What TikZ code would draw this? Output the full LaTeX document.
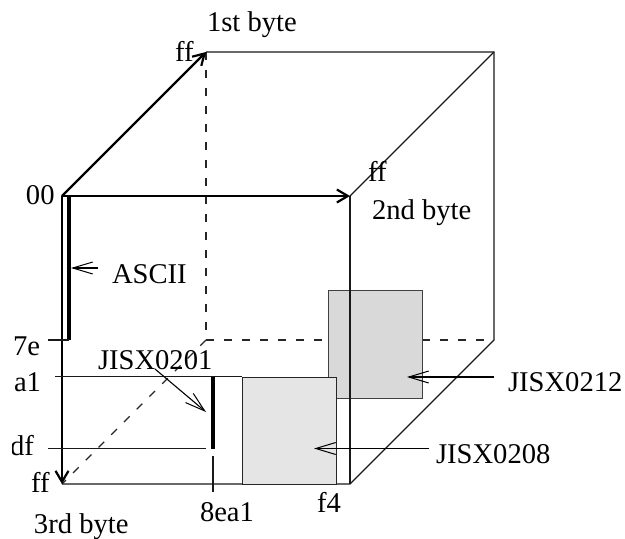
\documentclass[tikz,border=0pt]{standalone}
\usepackage{fontspec}
\setmainfont{Liberation Serif}
\usetikzlibrary{arrows.meta}
\tikzset{
  x=1pt,y=-1pt,
  thinline/.style={line width=1.1pt,draw=black!90},
  hidden/.style={line width=1.1pt,draw=black!85,dash pattern=on 8pt off 10pt},
  axis/.style={line width=2.4pt,-{Straight Barb[length=11pt,width=13pt,line width=2.2pt]}},
  bar/.style={line width=4.5pt},
  pointer/.style={line width=1.1pt,-{Straight Barb[length=20pt,width=12pt,line width=1pt]}},
  lab/.style={anchor=base west,inner sep=0pt,outer sep=0pt,font=\fontsize{28.6pt}{30pt}\selectfont},
  boxa/.style={fill=black!10,draw=black!85,line width=1.1pt},
  boxb/.style={fill=black!15,draw=black!75,line width=1.1pt}
}
\begin{document}
\begin{tikzpicture}
\useasboundingbox (0,0) rectangle (625,539);
% cube corners
\coordinate (o) at (62,196);
\coordinate (bt) at (206,52);
\coordinate (tr) at (350,196);
\coordinate (btr) at (494,52);
\coordinate (bbr) at (494,340);
\coordinate (bbl) at (206,340);
\coordinate (fl) at (62,484);
\coordinate (fr) at (350,484);
% hidden edges
\draw[hidden] (bt) -- (bbl);
\draw[hidden] (bbl) -- (bbr);
\draw[hidden] (bbl) -- (fl);
% visible thin edges
\draw[thinline] (bt) -- (btr) -- (bbr) -- (fr) -- (fl);
\draw[thinline] (tr) -- (btr);
% JISX0212 box
\node[boxb,minimum width=94pt,minimum height=108pt,inner sep=0pt,anchor=north west] (b212) at (328,290) {};
% front vertical over back box
\draw[thinline] (tr) -- (fr);
% JISX0208 box
\node[boxa,minimum width=93.5pt,minimum height=107.5pt,inner sep=0pt,anchor=north west] (b208) at (242,376.5) {};
% axes
\draw[axis] (o) -- (bt);
\draw[axis] (o) -- (tr);
\draw[axis] (o) -- (fl);
% ASCII bar
\coordinate (as1) at (69,196);
\coordinate (as2) at (69,340);
\draw[bar] (as1) -- (as2);
\coordinate (t7) at (48,340);
\draw[thinline] (t7) -- (as2);
% row lines
\coordinate (a1l) at (55,376.5);
\draw[thinline] (a1l) -- (b208.north west);
\coordinate (dfl) at (48,448.5);
\coordinate (dfr) at (206,448.5);
\draw[thinline] (dfl) -- (dfr);
% JISX0201 bar
\coordinate (j1) at (213,376.5);
\coordinate (j2) at (213,448.5);
\draw[bar] (j1) -- (j2);
\coordinate (m1) at (213,456);
\coordinate (m2) at (213,492);
\draw[thinline] (m1) -- (m2);
% labels
\node[lab] (l1st) at (207,31) {1st byte};
\node[lab] (lff1) at (175,61) {ff};
\node[lab] (lff2) at (368,181) {ff};
\node[lab] (l2nd) at (372,219) {2nd byte};
\node[lab] (l00) at (26,204) {00};
\node[lab] (lascii) at (112,283) {ASCII};
\node[lab] (l7e) at (13,355) {7e};
\node[lab] (l201) at (98,369) {JISX0201};
\node[lab] (la1) at (14,391) {a1};
\begin{scope}
\clip (12,420) rectangle (40,470);
\node[lab] (ldf) at (10,455) {df};
\end{scope}
\node[lab] (lff3) at (31,492) {ff};
\node[lab] (l3rd) at (34,533) {3rd byte};
\node[lab] (l8e) at (200,521) {8ea1};
\node[lab] (lf4) at (317,512) {f4};
\node[lab] (l212) at (508,391) {JISX0212};
\node[lab] (l208) at (436,463) {JISX0208};
% pointers
\coordinate (pa1) at (98,268);
\coordinate (pa2) at (71,268);
\draw[pointer] (pa1) -- (pa2);
\coordinate (p1) at (155,369);
\coordinate (p2) at (206,412);
\draw[pointer] (p1) -- (p2);
\coordinate (q1) at (494,377);
\coordinate (q2) at (407,377);
\draw[pointer] (q1) -- (q2);
\coordinate (r1) at (429,448.5);
\coordinate (r2) at (314,448.5);
\draw[pointer] (r1) -- (r2);
\end{tikzpicture}
\end{document}
